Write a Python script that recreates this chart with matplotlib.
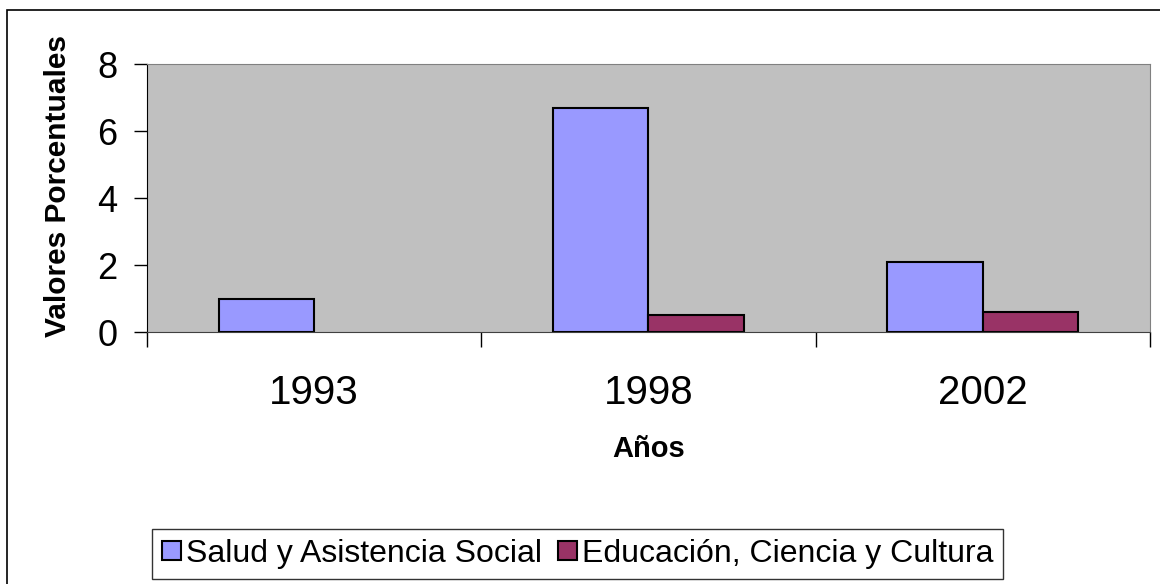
import matplotlib
matplotlib.use("Agg")
import matplotlib.pyplot as plt
import numpy as np
from matplotlib.patches import Rectangle, Patch

plt.rcParams['font.family'] = ['Liberation Sans', 'DejaVu Sans']

# データ
years = ['1993', '1998', '2002']
salud = [1.0, 6.7, 2.1]
educacion = [0.0, 0.5, 0.6]
series_names = ['Salud y Asistencia Social', 'Educación, Ciencia y Cultura']
y_ticks = [0, 2, 4, 6, 8]

colors = ['#9999FF', '#993366']

fig = plt.figure(figsize=(11.6, 5.84), dpi=100)
ax = fig.add_axes([0.1267, 0.4315, 0.8647, 0.4589])
ax.set_facecolor('#C0C0C0')

# 図全体の枠
fig.patches.append(Rectangle((0.006, -0.01), 1.2, 0.993, transform=fig.transFigure,
                             fill=False, edgecolor='black', linewidth=1.2))

x = np.arange(len(years))
width = 1 / 3.5
for i, vals in enumerate([salud, educacion]):
    lw = [1.5 if v > 0 else 0 for v in vals]
    ax.bar(x + (i - 0.5) * width, vals, width, color=colors[i], edgecolor='black',
           linewidth=lw)

ax.set_xlim(-0.5, len(years) - 0.5)
ax.set_ylim(0, 8)
ax.set_yticks(y_ticks)
ax.tick_params(axis='y', labelsize=26, length=9.4, width=1, direction='out', pad=12)

# 目盛はカテゴリ境界、ラベルは中央
ax.set_xticks(np.arange(len(years) + 1) - 0.5)
ax.set_xticklabels([])
ax.set_xticks(x, minor=True)
ax.set_xticklabels(years, minor=True)
ax.tick_params(axis='x', which='major', length=11, width=1, direction='out')
ax.tick_params(axis='x', which='minor', length=0, labelsize=29, pad=30)

for s in ['top', 'right']:
    ax.spines[s].set_color('#808080')
ax.spines['left'].set_color('black')
ax.spines['bottom'].set_color('#404040')

ax.set_ylabel('Valores Porcentuales', fontsize=21.5, fontweight='bold')
ax.yaxis.set_label_coords(-0.0887, 0.545)
ax.yaxis.label.set_va('center')
ax.set_xlabel('Años', fontsize=21, fontweight='bold')
ax.xaxis.set_label_coords(0.5, -0.437)
ax.xaxis.label.set_va('center')

# 凡例
handles = [Patch(facecolor=c, edgecolor='black', linewidth=1.5) for c in colors]
leg = fig.legend(handles, series_names, loc='center', bbox_to_anchor=(0.498, 0.0514),
                 ncol=2, fontsize=23, frameon=True, fancybox=False, edgecolor='black',
                 handlelength=0.6, handleheight=0.56, handletextpad=0.15,
                 columnspacing=0.5, borderpad=0.3, borderaxespad=0)
leg.get_frame().set_linewidth(1)

fig.savefig('out.png', dpi=100)
